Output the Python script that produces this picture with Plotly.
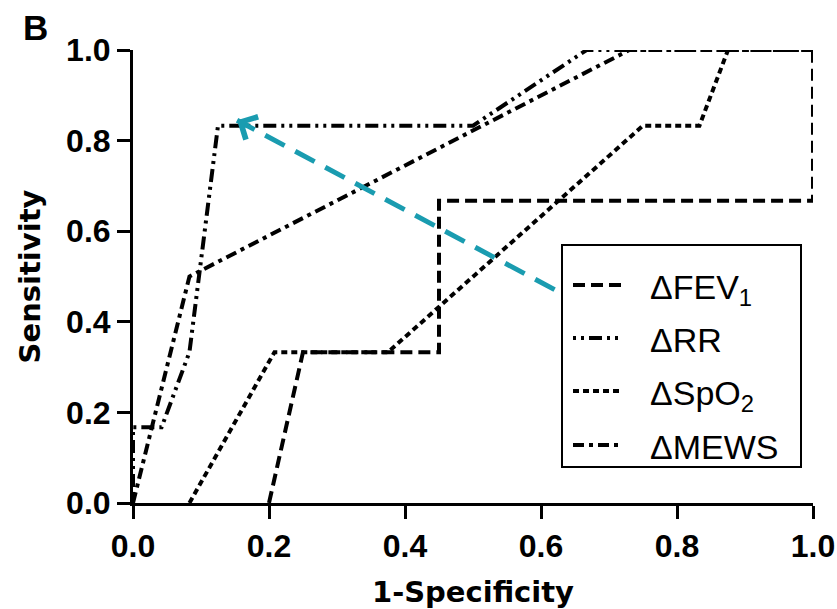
import math
import plotly.graph_objects as go

# ROC curve data (1-Specificity, Sensitivity)
fev1_x = [0.2, 0.25, 0.45, 0.45, 1.0, 1.0]
fev1_y = [0.0, 0.333, 0.333, 0.667, 0.667, 1.0]
rr_x = [0.0, 0.0, 0.042, 0.083, 0.125, 0.5, 0.667, 1.0]
rr_y = [0.0, 0.167, 0.167, 0.333, 0.833, 0.833, 1.0, 1.0]
spo2_x = [0.083, 0.208, 0.375, 0.75, 0.833, 0.875, 1.0]
spo2_y = [0.0, 0.333, 0.333, 0.833, 0.833, 1.0, 1.0]
mews_x = [0.0, 0.083, 0.73, 1.0]
mews_y = [0.0, 0.5, 1.0, 1.0]
arrow_x = [0.62, 0.153]
arrow_y = [0.471, 0.845]

tick_vals = [0.0, 0.2, 0.4, 0.6, 0.8, 1.0]
tick_text = ["0.0", "0.2", "0.4", "0.6", "0.8", "1.0"]

names = ["ΔFEV<sub>1</sub>", "ΔRR", "ΔSpO<sub>2</sub>", "ΔMEWS"]
dashes = ["12px,6px", "3px,5px,3px,5px,13px,5px", "6px,4px", "11px,5px,4px,5px"]
series = [(fev1_x, fev1_y), (rr_x, rr_y), (spo2_x, spo2_y), (mews_x, mews_y)]

W, H = 837, 609
ML, MR, MT, MB = 133, 24, 50, 106
PW, PH = W - ML - MR, H - MT - MB
ARROW_COLOR = "#1a9cb0"


def px_x(p):
    return (p - ML) / PW


def px_y(p):
    return (H - MB - p) / PH


fig = go.Figure()
for (xs, ys), nm, ds in zip(series, names, dashes):
    fig.add_trace(go.Scatter(
        x=xs, y=ys, mode="lines", name=nm, showlegend=False,
        line=dict(color="black", width=4, dash=ds),
        cliponaxis=False,
    ))

# dashed arrow shaft
fig.add_trace(go.Scatter(
    x=arrow_x, y=arrow_y, mode="lines", showlegend=False,
    line=dict(color=ARROW_COLOR, width=5, dash="22px,12px"),
    cliponaxis=False,
))

# arrow head (chevron) via annotation pointing along the shaft
dxp = (arrow_x[0] - arrow_x[1]) * PW
dyp = -(arrow_y[0] - arrow_y[1]) * PH
L = math.hypot(dxp, dyp)
ux, uy = dxp / L, dyp / L

annotations = [dict(
    x=arrow_x[1], y=arrow_y[1], xref="x", yref="y",
    ax=ux * 14, ay=uy * 14, axref="pixel", ayref="pixel",
    showarrow=True, arrowhead=4, arrowsize=1.0, arrowwidth=5,
    arrowcolor=ARROW_COLOR, text="",
)]

# panel letter
annotations.append(dict(
    text="B", xref="paper", yref="paper", x=px_x(35), y=px_y(28),
    xanchor="center", yanchor="middle", showarrow=False,
    font=dict(family="Liberation Sans, Arial", size=35, color="black", weight="bold"),
))

# manual legend
shapes = [dict(
    type="rect", xref="paper", yref="paper",
    x0=px_x(562), x1=px_x(801), y0=px_y(467), y1=px_y(245),
    line=dict(color="black", width=2), fillcolor="white", layer="above",
)]
cap_tops = [274, 327, 380, 434]
for nm, ds, ct in zip(names, dashes, cap_tops):
    yc = ct + 11
    shapes.append(dict(
        type="line", xref="paper", yref="paper",
        x0=px_x(573), x1=px_x(623), y0=px_y(yc), y1=px_y(yc),
        line=dict(color="black", width=4, dash=ds), layer="above",
    ))
    annotations.append(dict(
        text=nm, xref="paper", yref="paper", x=px_x(648), y=px_y(ct - 8),
        xanchor="left", yanchor="top", showarrow=False,
        font=dict(family="Liberation Sans, Arial", size=34, color="black"),
    ))

tickfont = dict(family="Liberation Sans, Arial", size=32, color="black", weight="bold")
titlefont = dict(family="DejaVu Sans", size=29, color="black", weight="bold")

fig.update_layout(
    width=W, height=H,
    margin=dict(l=ML, r=MR, t=MT, b=MB, autoexpand=False),
    paper_bgcolor="white", plot_bgcolor="white",
    showlegend=False,
    xaxis=dict(
        range=[0, 1], tickvals=tick_vals, ticktext=tick_text,
        showgrid=False, zeroline=False, showline=True, automargin=False,
        linecolor="black", linewidth=3,
        ticks="outside", ticklen=13, tickwidth=3, tickcolor="black",
        tickfont=tickfont,
        title=dict(text="1-Specificity", font=titlefont, standoff=19),
    ),
    yaxis=dict(
        range=[0, 1], tickvals=tick_vals, ticktext=tick_text,
        showgrid=False, zeroline=False, showline=True, automargin=False,
        linecolor="black", linewidth=3,
        ticks="outside", ticklen=13, tickwidth=3, tickcolor="black",
        tickfont=tickfont,
        title=dict(text="Sensitivity", font=titlefont, standoff=17),
    ),
    annotations=annotations,
    shapes=shapes,
)

fig.write_html("out.html")
